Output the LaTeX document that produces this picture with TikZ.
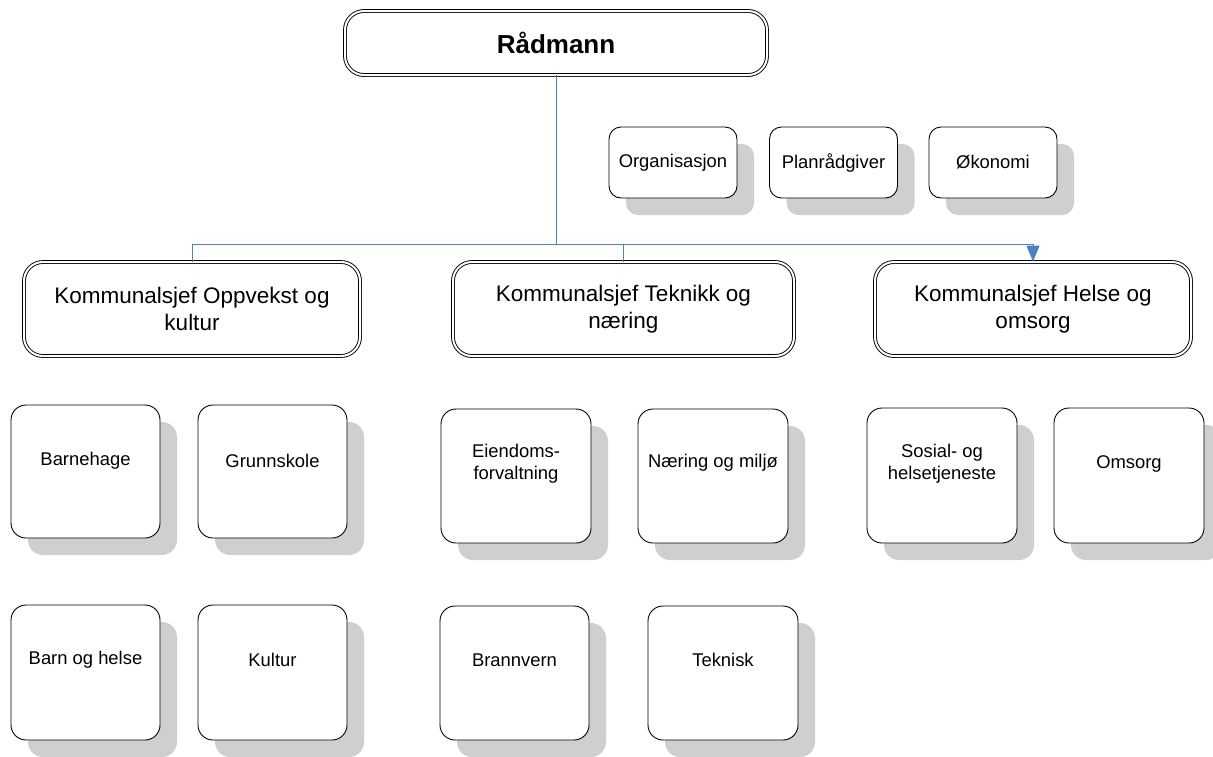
\documentclass[tikz,border=0pt]{standalone}
\usepackage{fontspec}
\setmainfont{Liberation Sans}
\usetikzlibrary{shadows,arrows.meta}
\definecolor{connblue}{RGB}{79,129,189}
\definecolor{shade}{RGB}{207,207,207}
\begin{document}
\begin{tikzpicture}[x=1pt,y=-1pt,
  mgr/.style={draw=black, line width=0.9pt, double=white, double distance=2pt,
    rounded corners=19pt, fill=white, align=center, inner sep=0pt,
    font=\fontsize{22.5}{27}\selectfont},
  staffbox/.style={draw=black, line width=0.9pt, rounded corners=12pt, fill=white,
    minimum width=128pt, minimum height=71pt, inner sep=0pt, align=center,
    font=\fontsize{18.4}{22}\selectfont,
    drop shadow={shadow xshift=17pt, shadow yshift=-17pt, fill=shade, opacity=1}},
  subbox/.style={staffbox, minimum width=150pt, minimum height=134pt, rounded corners=15pt},
  txt/.style={font=\fontsize{18.4}{22}\selectfont, align=center, inner sep=0pt},
  cline/.style={draw=connblue, line width=1pt}
]
\useasboundingbox (0,0) rectangle (1213,756);

% top manager
\node[mgr, minimum width=422pt, minimum height=64pt, font=\fontsize{26}{30}\selectfont\bfseries]
  (rad) at (556,43) {Rådmann};

% staff
\node[staffbox] (org) at (673,162.5) {Organisasjon};
\node[staffbox] (plan) at (833.5,162.5) {Planrådgiver};
\node[staffbox] (oko) at (993,162.5) {Økonomi};

% department heads
\node[mgr, minimum width=336pt, minimum height=94pt] (opp) at (192,309)
  {Kommunalsjef Oppvekst og\\kultur};
\node[mgr, minimum width=341pt, minimum height=94pt] (tek) at (623.5,309)
  {Kommunalsjef Teknikk og\\næring};
\node[mgr, minimum width=316pt, minimum height=94pt] (hel) at (1033,309)
  {Kommunalsjef Helse og\\omsorg};

% units
\node[subbox, minimum width=149pt, minimum height=133pt,
  label={[txt, yshift=10.5pt]center:Barnehage}] (barnehage) at (85.5,471.5) {};
\node[subbox, minimum width=149pt, minimum height=133pt,
  label={[txt, yshift=10.5pt]center:Grunnskole}] (grunnskole) at (272.5,471.5) {};
\node[subbox, minimum width=149pt, minimum height=135pt,
  label={[txt, yshift=12.5pt]center:Barn og helse}] (barn) at (85.5,672.5) {};
\node[subbox, minimum width=149pt, minimum height=135pt,
  label={[txt, yshift=12.5pt]center:Kultur}] (kultur) at (272.5,672.5) {};

\node[subbox, label={[txt, yshift=12pt]center:Eiendoms-\\forvaltning}] (eiendom) at (516,476) {};
\node[subbox, label={[txt, yshift=13pt]center:Næring og miljø}] (naering) at (713,476) {};
\node[subbox, minimum width=149pt, label={[txt, yshift=13pt]center:Brannvern}] (brann) at (514.5,673) {};
\node[subbox, label={[txt, yshift=13pt]center:Teknisk}] (teknisk) at (723,673) {};

\node[subbox, minimum height=135pt, label={[txt, yshift=12pt]center:Sosial- og\\helsetjeneste}] (sosial) at (942,475.5) {};
\node[subbox, minimum height=135pt, label={[txt, yshift=12pt]center:Omsorg}] (omsorg) at (1129,475.5) {};

% connectors
\coordinate (hub) at (556,244);
\draw[cline] (rad.south) -- (hub) -| (opp.north);
\draw[cline] (hub) -| (tek.north);
\draw[cline, -{Triangle[length=16pt,width=13pt]}] (hub) -| (hel.north);
\end{tikzpicture}
\end{document}
